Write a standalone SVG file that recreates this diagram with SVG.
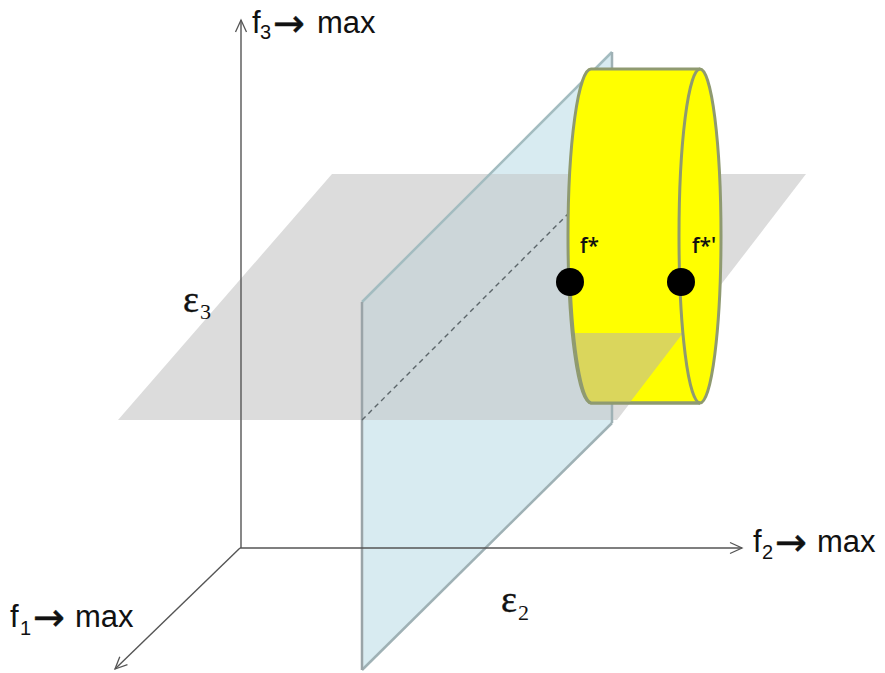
<svg xmlns="http://www.w3.org/2000/svg" width="885" height="673" viewBox="0 0 885 673">
<style>
.lbl{font-family:"Liberation Sans",Arial,sans-serif;font-size:31px;fill:#111}
.sub{font-size:20px}
.arr{font-family:"DejaVu Sans",sans-serif;font-size:38px;stroke:#111;stroke-width:0.5}
.eps{font-family:"Liberation Serif","DejaVu Serif",serif;font-size:38px;fill:#111;stroke:#111;stroke-width:0.4}
.eps .sub{font-size:22px;stroke-width:0}
.pt{font-family:"Open Sans","Liberation Sans",sans-serif;font-size:21px;font-weight:600;fill:#111}
.axis{stroke:#555;stroke-width:1.4;fill:none}
.cyl{stroke:#8f9a70;stroke-width:3;fill:#ffff00}
</style>
<defs>
<marker id="chev" markerUnits="userSpaceOnUse" markerWidth="16" markerHeight="14" refX="13" refY="6" orient="auto" overflow="visible">
<path d="M1,0.5 L13,6 L1,11.5" fill="none" stroke="#555" stroke-width="1.3"/>
</marker>
<clipPath id="cylclip">
<path d="M591,69 L700,69 A21 167 0 0 1 700,403 L591,403 A23 167 0 0 1 591,69 Z"/>
</clipPath>
</defs>
<rect width="885" height="673" fill="#ffffff"/>
<g id="plane-eps3">
<polygon points="332,174 806,174 617,420 118,420" fill="#dcdcdc"/>
</g>
<g id="plane-eps2">
<polygon points="362,302 612,52 612,423 362,670" fill="#d8ebf1"/>
<polygon points="362,302 490,174 612,174 612,420 362,420" fill="#ccd6d9"/>
<line x1="362" y1="302" x2="612" y2="52" stroke="#a3bcc0" stroke-width="2.5"/>
<line x1="612" y1="52" x2="612" y2="423" stroke="#9fb1b5" stroke-width="2.5"/>
<line x1="612" y1="423" x2="362" y2="670" stroke="#9fb1b5" stroke-width="2.5"/>
<line x1="362" y1="302" x2="362" y2="670" stroke="#9aa4a8" stroke-width="2.5"/>
<line x1="362" y1="420" x2="608" y2="174" stroke="#5c666a" stroke-width="1.4" stroke-dasharray="5,4"/>
</g>
<g id="cylinder">
<path class="cyl" d="M591,69 L700,69 A21 167 0 0 1 700,403 L591,403 A23 167 0 0 1 591,69 Z"/>
<polygon points="555,333 683,333 628,405 555,405" fill="#dad65c" clip-path="url(#cylclip)"/>
<path d="M700,403 L591,403 A23 167 0 0 1 570,282" fill="none" stroke="#8f9a70" stroke-width="3"/>
<path d="M700,69 A21 167 0 0 0 700,403" fill="none" stroke="#8f9a70" stroke-width="3"/>
</g>
<g id="point-fstar">
<circle cx="570" cy="282" r="14" fill="#000"/>
<text class="pt" x="580" y="253">f*</text>
</g>
<g id="point-fstar2">
<circle cx="681" cy="282" r="14" fill="#000"/>
<text class="pt" x="692" y="253">f*'</text>
</g>
<g id="connectors">
<line class="axis" x1="241" y1="548" x2="241" y2="20" marker-end="url(#chev)"/>
<line class="axis" x1="240" y1="548" x2="742" y2="548" marker-end="url(#chev)"/>
<line class="axis" x1="240" y1="548" x2="115" y2="669" marker-end="url(#chev)"/>
</g>
<g id="labels">
<text class="lbl" x="252" y="33">f<tspan class="sub" x="260" y="39">3</tspan><tspan class="arr" x="273" y="36">→</tspan><tspan x="317" y="33">max</tspan></text>
<text class="lbl" x="753" y="552">f<tspan class="sub" x="762" y="559">2</tspan><tspan class="arr" x="775" y="555">→</tspan><tspan x="817" y="552">max</tspan></text>
<text class="lbl" x="10" y="627">f<tspan class="sub" x="20" y="635">1</tspan><tspan class="arr" x="33" y="630">→</tspan><tspan x="75" y="627">max</tspan></text>
<text class="eps" x="183" y="312">ε<tspan class="sub" x="200" y="319">3</tspan></text>
<text class="eps" x="501" y="612">ε<tspan class="sub" x="518" y="620">2</tspan></text>
</g>
</svg>
